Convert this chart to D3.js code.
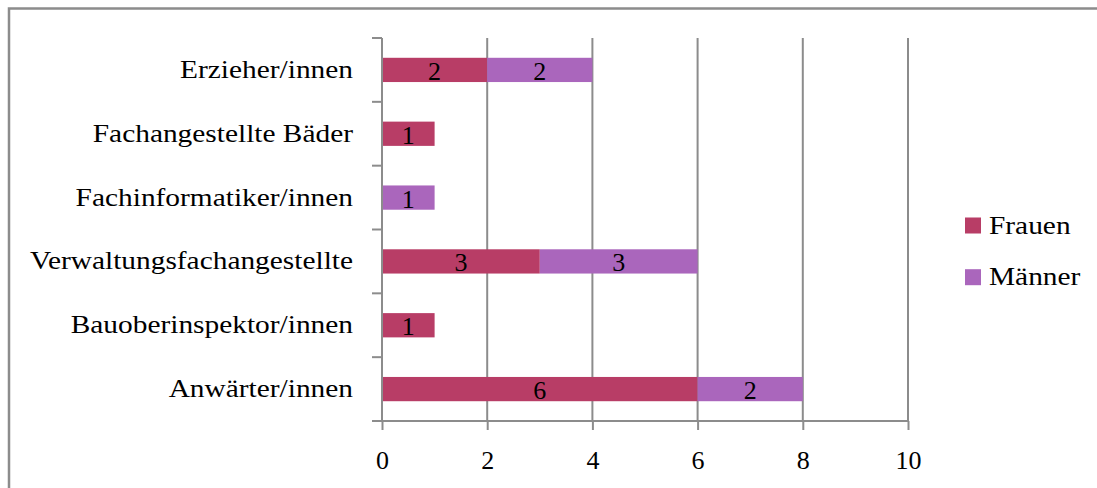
<!DOCTYPE html>
<html><head><meta charset="utf-8">
<script src="https://cdn.jsdelivr.net/npm/d3@7"></script>
<style>body{margin:0;background:#fff}svg{display:block}text{font-family:"Liberation Serif","DejaVu Serif",serif}</style>
</head><body>
<svg id="c" width="1097" height="488"></svg>
<script>
const categories = ["Erzieher/innen","Fachangestellte Bäder","Fachinformatiker/innen","Verwaltungsfachangestellte","Bauoberinspektor/innen","Anwärter/innen"];
const frauen = [2,1,0,3,1,6];
const maenner = [2,0,1,3,0,2];
const seriesNames = ["Frauen","Männer"];
const colors = ["#B83D66","#AA66BC"];
const xTicks = [0,2,4,6,8,10];

const FS=26, STRETCH=1.13;
function widen(sel){ sel.each(function(){ const w=this.getComputedTextLength(); d3.select(this).attr("textLength",w*STRETCH).attr("lengthAdjust","spacingAndGlyphs"); }); }

const svg = d3.select("#c");
svg.append("rect").attr("x",9).attr("y",8.5).attr("width",1200).attr("height",600)
  .attr("fill","none").attr("stroke","#8c8c8c").attr("stroke-width",2.5);

const L=382,R=908,T=38,B=421;
const x=d3.scaleLinear().domain([0,10]).range([L,R]);
const y=d3.scaleBand().domain(categories).range([T,B]).paddingInner(0.62).paddingOuter(0.31);
const yb=d3.scaleBand().domain(categories).range([T,B]);

const g=svg.append("g");
g.selectAll("line.grid").data(xTicks.filter(d=>d>0)).join("line")
  .attr("x1",d=>x(d)).attr("x2",d=>x(d)).attr("y1",T).attr("y2",B)
  .attr("stroke","#8c8c8c").attr("stroke-width",2);

const data=categories.map((c,i)=>({c,v:[frauen[i],maenner[i]]}));
data.forEach(d=>{
  let acc=0;
  d.v.forEach((v,k)=>{
    if(v>0){
      g.append("rect").attr("x",x(acc)).attr("y",y(d.c)).attr("width",x(acc+v)-x(acc)).attr("height",y.bandwidth()).attr("fill",colors[k]);
      g.append("text").attr("x",(x(acc)+x(acc+v))/2).attr("y",y(d.c)+y.bandwidth()/2+10)
        .attr("text-anchor","middle").attr("font-size",FS).attr("fill","#000").text(v);
    }
    acc+=v;
  });
});

const xa=svg.append("g").attr("transform",`translate(0,${B})`)
  .call(d3.axisBottom(x).tickValues(xTicks).tickSize(9).tickPadding(16).tickSizeOuter(0));
xa.select(".domain").attr("stroke","#8c8c8c").attr("stroke-width",2).attr("d",`M${L-10},0H${R}`);
xa.selectAll(".tick line").attr("stroke","#8c8c8c").attr("stroke-width",2);
xa.selectAll(".tick text").attr("font-size",FS).attr("fill","#000").attr("font-family","Liberation Serif")
  .attr("dy",null).attr("y",48);

const ya=svg.append("g").attr("transform",`translate(${L},0)`);
ya.append("line").attr("x1",0).attr("x2",0).attr("y1",T).attr("y2",B).attr("stroke","#8c8c8c").attr("stroke-width",2);
const bounds=categories.map(c=>yb(c)).concat([B]);
ya.selectAll("line.t").data(bounds).join("line").attr("x1",-10).attr("x2",0).attr("y1",d=>d).attr("y2",d=>d)
  .attr("stroke","#8c8c8c").attr("stroke-width",2);
ya.selectAll("text.lab").data(categories).join("text").attr("class","lab").attr("x",-29).attr("y",d=>yb(d)+yb.bandwidth()/2+8)
  .attr("text-anchor","end").attr("font-size",FS).attr("fill","#000").text(d=>d).call(widen);

const lg=svg.append("g");
seriesNames.forEach((s,i)=>{
  const yy=217.5+i*51.7;
  lg.append("rect").attr("x",965).attr("y",yy).attr("width",16).attr("height",16).attr("fill",colors[i]);
  lg.append("text").attr("x",989).attr("y",yy+16).attr("font-size",FS).attr("fill","#000").text(s).call(widen);
});
</script>
</body></html>
